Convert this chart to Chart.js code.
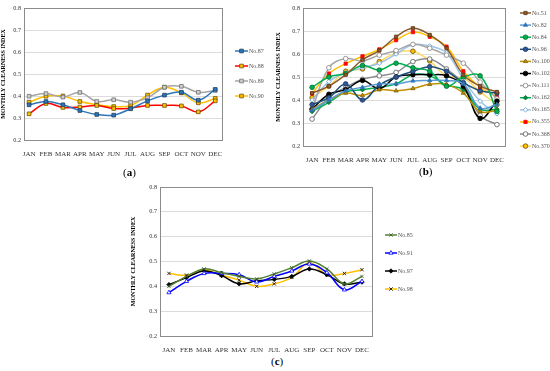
<!DOCTYPE html>
<html>
<head>
<meta charset="utf-8">
<script src="https://cdn.jsdelivr.net/npm/chart.js@4"></script>
<style>
  body { margin: 0; background: #fff; }
  #page { position: relative; width: 550px; height: 371px; overflow: hidden; }
  canvas { position: absolute; }
  .cap { position: absolute; font-family: "Liberation Serif", "DejaVu Serif", serif; font-size: 11px; color: #000; }
</style>
</head>
<body>
<div id="page">
  <canvas id="chartA" width="275" height="160" style="left:0;top:0"></canvas>
  <canvas id="chartB" width="275" height="165" style="left:275px;top:0"></canvas>
  <canvas id="chartC" width="300" height="175" style="left:130px;top:178px"></canvas>
  <div class="cap" style="left:123px;top:166px">(<b>a</b>)</div>
  <div class="cap" style="left:419px;top:165px">(<b>b</b>)</div>
  <div class="cap" style="left:271px;top:355px">(<b>c</b>)</div>
</div>
<script>
const meses = ['JAN', 'FEB', 'MAR', 'APR', 'MAY', 'JUN', 'JUL', 'AUG', 'SEP', 'OCT', 'NOV', 'DEC'];
const yTicks = [0.2, 0.3, 0.4, 0.5, 0.6, 0.7, 0.8];

// (a)
const no87 = [0.360, 0.375, 0.360, 0.334, 0.316, 0.313, 0.342, 0.378, 0.404, 0.417, 0.381, 0.430];
const no88 = [0.319, 0.366, 0.348, 0.350, 0.357, 0.343, 0.345, 0.357, 0.357, 0.355, 0.328, 0.378];
const no89 = [0.399, 0.411, 0.395, 0.416, 0.375, 0.383, 0.372, 0.392, 0.440, 0.444, 0.417, 0.425];
const no90 = [0.372, 0.399, 0.400, 0.375, 0.361, 0.352, 0.357, 0.404, 0.440, 0.414, 0.369, 0.389];

// (b)
const no51  = [0.430, 0.460, 0.510, 0.575, 0.615, 0.675, 0.712, 0.683, 0.625, 0.510, 0.460, 0.435];
const no82  = [0.355, 0.400, 0.440, 0.455, 0.470, 0.470, 0.483, 0.485, 0.485, 0.470, 0.365, 0.380];
const no84  = [0.455, 0.500, 0.515, 0.550, 0.530, 0.560, 0.540, 0.525, 0.460, 0.500, 0.505, 0.350];
const no96  = [0.380, 0.410, 0.470, 0.400, 0.465, 0.500, 0.525, 0.545, 0.525, 0.475, 0.440, 0.430];
const no100 = [0.360, 0.400, 0.430, 0.420, 0.445, 0.440, 0.450, 0.468, 0.468, 0.430, 0.350, 0.355];
const no102 = [0.360, 0.425, 0.445, 0.485, 0.450, 0.500, 0.510, 0.510, 0.505, 0.460, 0.320, 0.395];
const no111 = [0.360, 0.540, 0.580, 0.570, 0.595, 0.615, 0.642, 0.625, 0.595, 0.560, 0.478, 0.405];
const no162 = [0.350, 0.390, 0.435, 0.445, 0.455, 0.470, 0.510, 0.505, 0.465, 0.445, 0.360, 0.360];
const no165 = [0.400, 0.480, 0.520, 0.540, 0.560, 0.600, 0.640, 0.635, 0.605, 0.490, 0.395, 0.340];
const no355 = [0.428, 0.515, 0.558, 0.590, 0.620, 0.660, 0.695, 0.675, 0.632, 0.525, 0.455, 0.415];
const no368 = [0.317, 0.410, 0.455, 0.490, 0.505, 0.520, 0.567, 0.578, 0.535, 0.470, 0.333, 0.293];
const no370 = [0.410, 0.460, 0.525, 0.535, 0.567, 0.605, 0.612, 0.570, 0.505, 0.495, 0.435, 0.380];

// (c)
const no85 = [0.400, 0.440, 0.470, 0.455, 0.440, 0.430, 0.450, 0.475, 0.502, 0.470, 0.410, 0.440];
const no91 = [0.375, 0.420, 0.452, 0.452, 0.447, 0.418, 0.440, 0.462, 0.490, 0.455, 0.386, 0.420];
const no97 = [0.407, 0.435, 0.462, 0.443, 0.410, 0.422, 0.428, 0.440, 0.470, 0.447, 0.410, 0.417];
const no98 = [0.452, 0.445, 0.467, 0.445, 0.425, 0.400, 0.410, 0.436, 0.495, 0.447, 0.452, 0.467];

const fonte = '"Liberation Serif", "DejaVu Serif", serif';

function serie(label, valores, linha, fundo, borda, estilo, raio) {
    return {
        label: label,
        data: valores.map((v, i) => ({ x: i, y: v })),
        borderColor: linha,
        borderWidth: 1.5,
        tension: 0.4,
        pointStyle: estilo,
        pointRadius: raio,
        pointBackgroundColor: fundo,
        pointBorderColor: borda,
        pointBorderWidth: 0.8
    };
}

// moldura em volta da area do grafico
const moldura = {
    id: 'moldura',
    afterDraw(chart) {
        const a = chart.chartArea;
        const ctx = chart.ctx;
        ctx.save();
        ctx.strokeStyle = '#8c8c8c';
        ctx.lineWidth = 1;
        ctx.strokeRect(Math.round(a.left) + 0.5, Math.round(a.top) + 0.5, Math.round(a.right - a.left), Math.round(a.bottom - a.top));
        ctx.restore();
    }
};

// legenda lateral com linha + marcador
const legendaLateral = {
    id: 'legendaLateral',
    afterDraw(chart, args, opts) {
        const ctx = chart.ctx;
        chart.data.datasets.forEach((ds, i) => {
            const y = opts.y0 + i * opts.dy;
            ctx.save();
            ctx.strokeStyle = ds.borderColor;
            ctx.lineWidth = 1.5;
            ctx.beginPath();
            ctx.moveTo(opts.x0, y);
            ctx.lineTo(opts.x0 + opts.len, y);
            ctx.stroke();
            ctx.fillStyle = ds.pointBackgroundColor;
            ctx.strokeStyle = ds.pointBorderColor;
            ctx.lineWidth = 0.8;
            Chart.helpers.drawPoint(ctx, { pointStyle: ds.pointStyle, radius: ds.pointRadius, rotation: 0, borderWidth: 0.8 }, opts.x0 + opts.len / 2, y);
            ctx.fillStyle = '#555';
            ctx.font = '6px ' + fonte;
            ctx.textBaseline = 'middle';
            ctx.fillText(ds.label, opts.x0 + opts.len + 1, y);
            ctx.restore();
        });
    }
};

function criarGrafico(id, datasets, cfg) {
    return new Chart(document.getElementById(id), {
        type: 'line',
        data: { datasets: datasets },
        options: {
            responsive: false,
            animation: false,
            layout: { padding: { left: 0, right: cfg.padRight, top: cfg.padTop, bottom: 0 } },
            plugins: {
                legend: { display: false },
                tooltip: { enabled: false },
                legendaLateral: cfg.legenda
            },
            scales: {
                x: {
                    type: 'linear',
                    min: cfg.xMin,
                    max: cfg.xMax,
                    afterBuildTicks: (s) => { s.ticks = meses.map((m, i) => ({ value: i })); },
                    afterFit: (s) => { s.height = cfg.xAltura; },
                    ticks: {
                        autoSkip: false,
                        maxRotation: 0,
                        padding: 2,
                        color: '#333',
                        font: { family: fonte, size: 7 },
                        callback: (v) => meses[v]
                    },
                    grid: { display: false },
                    border: { display: false }
                },
                y: {
                    min: 0.2,
                    max: 0.8,
                    afterBuildTicks: (s) => { s.ticks = yTicks.map(v => ({ value: v })); },
                    afterFit: (s) => { s.width = cfg.yLargura; },
                    ticks: {
                        padding: 3,
                        color: '#333',
                        font: { family: fonte, size: 6.2 },
                        callback: (v) => v.toFixed(1)
                    },
                    grid: { color: '#dcdcdc', drawTicks: false },
                    border: { display: false },
                    title: {
                        display: true,
                        text: 'MONTHLY CLEARNESS INDEX',
                        color: '#000',
                        padding: 0,
                        font: { family: fonte, size: 6, weight: 'bold' }
                    }
                }
            }
        },
        plugins: [moldura, legendaLateral]
    });
}

criarGrafico('chartA', [
    serie('No.87', no87, '#2e75b6', '#2e75b6', '#1f3f66', 'rect', 2.6),
    serie('No.88', no88, '#ff0000', '#ffc000', '#6b5100', 'rect', 2.6),
    serie('No.89', no89, '#a6a6a6', '#d0d0d0', '#6f6f6f', 'rect', 2.6),
    serie('No.90', no90, '#ffc000', '#ffc000', '#6b5100', 'rect', 2.6)
], { padRight: 53, padTop: 8, xAltura: 20, yLargura: 24, xMin: -0.3, xMax: 11.4,
     legenda: { x0: 235, y0: 51, dy: 15, len: 13 } });

criarGrafico('chartB', [
    serie('No.51', no51, '#8c5a2b', '#8c5a2b', '#5a3515', 'rect', 2.3),
    serie('No.82', no82, '#5b9bd5', '#2e75b6', '#2e75b6', 'triangle', 2.4),
    serie('No.84', no84, '#00b050', '#00b050', '#006b2f', 'circle', 2.3),
    serie('No.96', no96, '#1f4e79', '#2f5597', '#1f3a5f', 'circle', 2.3),
    serie('No.100', no100, '#bf9000', '#bf9000', '#7f6000', 'triangle', 2.4),
    serie('No.102', no102, '#000000', '#000000', '#000000', 'circle', 2.3),
    serie('No.111', no111, '#a6a6a6', '#ffffff', '#7f7f7f', 'circle', 2.3),
    serie('No.162', no162, '#00b050', '#008a3e', '#006b2f', 'rectRot', 2.3),
    serie('No.165', no165, '#9dc3e6', '#ffffff', '#5b9bd5', 'rectRot', 2.3),
    serie('No.355', no355, '#ffc000', '#ff0000', '#ff0000', 'rect', 2.3),
    serie('No.368', no368, '#8c8c8c', '#ffffff', '#595959', 'circle', 2.3),
    serie('No.370', no370, '#ffd966', '#ffc000', '#6b5100', 'circle', 2.3)
], { padRight: 45, padTop: 8, xAltura: 19, yLargura: 28, xMin: -0.54, xMax: 11.48,
     legenda: { x0: 245, y0: 13, dy: 12.1, len: 11 } });

criarGrafico('chartC', [
    serie('No.85', no85, '#548235', '#a9c79a', '#375623', 'crossRot', 2.4),
    serie('No.91', no91, '#0000ff', '#ffffff', '#0000ff', 'triangle', 2.4),
    serie('No.97', no97, '#000000', '#000000', '#000000', 'rectRot', 2.2),
    serie('No.98', no98, '#ffc000', '#ffc000', '#000000', 'crossRot', 2.4)
], { padRight: 58, padTop: 9, xAltura: 17, yLargura: 30, xMin: -0.51, xMax: 11.57,
     legenda: { x0: 255, y0: 57, dy: 18, len: 12 } });
</script>
</body>
</html>
